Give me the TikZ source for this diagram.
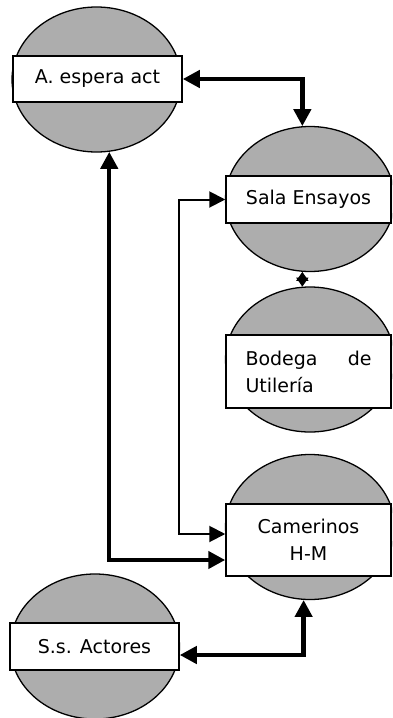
\documentclass[tikz,border=0pt]{standalone}
\usepackage{fontspec}
\setmainfont{DejaVu Sans}
\usetikzlibrary{
  arrows.meta,
  shapes.geometric,
  calc,
}
\definecolor{ovalgray}{RGB}{173,173,173}
\definecolor{linkcol}{RGB}{0,0,0}
\tikzset{
  roomoval/.style={
    ellipse, draw=black, line width=1.3pt, fill=ovalgray,
    minimum width=169pt, minimum height=145pt, inner sep=0pt
  },
  roombox/.style={
    rectangle, draw=black, line width=1.5pt, fill=white,
    inner sep=0pt, align=center,
    font=\fontsize{19}{27}\selectfont
  },
  boldlink/.style={
    line width=4.5pt, linkcol,
    {Triangle[length=17pt,width=17pt]}-{Triangle[length=17pt,width=17pt]}
  },
  thinlink/.style={
    line width=2pt, linkcol,
    {Triangle[length=16pt,width=16pt]}-{Triangle[length=16pt,width=16pt]}
  },
  tinylink/.style={
    line width=1.5pt, linkcol,
    {Triangle[length=9pt,width=12pt]}-{Triangle[length=9pt,width=12pt]}
  },
}

\begin{document}
\begin{tikzpicture}[x=1pt, y=-1pt]

  \useasboundingbox (0,0) rectangle (392,718);
  \clip (0,0) rectangle (392,718);

  % ── Ovals ──
  \node[roomoval] (aOval)      at (96.5, 79.5)  {};
  \node[roomoval] (salaOval)   at (310, 199)    {};
  \node[roomoval] (bodegaOval) at (310, 359.5)  {};
  \node[roomoval] (camOval)    at (310, 527)    {};
  \node[roomoval] (ssOval)     at (95, 646.5)   {};

  % ── Room labels ──
  \node[roombox, minimum width=169pt, minimum height=46pt] (aBox)   at (97.5, 79)    {A. espera act};
  \node[roombox, minimum width=165pt, minimum height=47pt] (salaBox) at (308.5, 199.5) {Sala Ensayos};
  \node[roombox, minimum width=165pt, minimum height=73pt] (bodegaBox) at (308.5, 371.5)
    {\begin{minipage}{126pt}Bodega\hfill de\\Utilería\end{minipage}};
  \node[roombox, minimum width=165pt, minimum height=72pt] (camBox) at (308.5, 540) {Camerinos\\H-M};
  \node[roombox, minimum width=169pt, minimum height=47pt] (ssBox)  at (94.5, 646.5) {S.s. Actores};

  % ── Rails ──
  \coordinate (thinRail) at (179, 0);

  % ── Links ──
  \draw[boldlink] (aBox.east) -| (salaOval.96);
  \draw[tinylink] (salaOval.264) -- (bodegaOval.96);
  \draw[thinlink] (salaBox.west) -- (salaBox.west -| thinRail) |- ([yshift=6pt]camBox.west);
  \draw[boldlink] (aOval.280) |- ([yshift=-20pt]camBox.west);
  \draw[boldlink] ([yshift=-8.5pt]ssBox.east) -| (camOval.265);

\end{tikzpicture}
\end{document}
